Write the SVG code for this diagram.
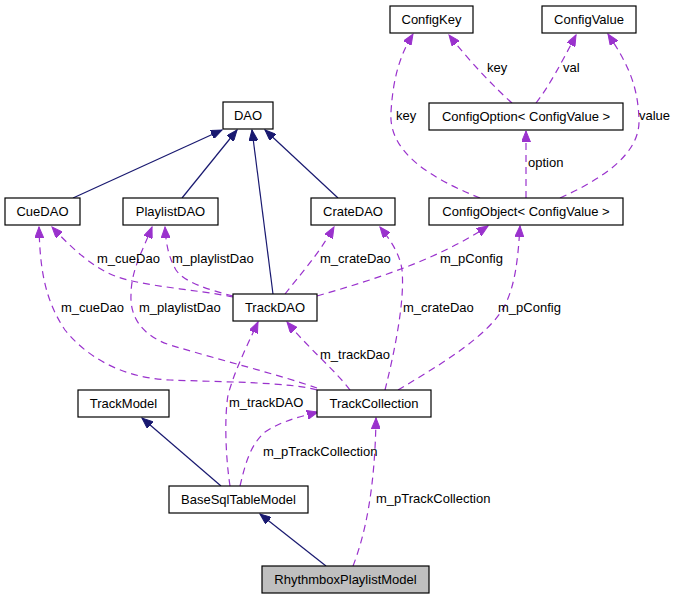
<svg xmlns="http://www.w3.org/2000/svg" width="676" height="600" viewBox="0 0 676 600">
<style>
.n rect{fill:#fff;stroke:#000;stroke-width:1.2}
.n text{font-family:"Liberation Sans",Arial,sans-serif;font-size:13px;text-anchor:middle;fill:#000}
.inh{fill:none;stroke:#191970;stroke-width:1.2;marker-end:url(#ah)}
.use{fill:none;stroke:#9a32cd;stroke-width:1.2;stroke-dasharray:7,5;marker-end:url(#au)}
.lbl{font-family:"Liberation Sans",Arial,sans-serif;font-size:13px;fill:#000}
</style>
<defs>
<marker id="ah" markerUnits="userSpaceOnUse" markerWidth="12" markerHeight="9" refX="11" refY="4.5" orient="auto"><path d="M0,0 L11,4.5 L0,9 z" fill="#191970" stroke="#191970"/></marker>
<marker id="au" markerUnits="userSpaceOnUse" markerWidth="12" markerHeight="9" refX="11" refY="4.5" orient="auto"><path d="M0,0 L11,4.5 L0,9 z" fill="#9a32cd" stroke="#9a32cd"/></marker>
</defs>
<rect width="676" height="600" fill="#fff"/>
<g id="edges">
<path class="inh" d="M73,198 L222,130"/>
<path class="inh" d="M182,198 L237,130"/>
<path class="inh" d="M273,294 L252,130"/>
<path class="inh" d="M338,198 L265,130"/>
<path class="inh" d="M221,486 L142,418"/>
<path class="inh" d="M326,566 L260,514"/>
<path class="use" d="M480,198 C430,178 388,152 391,112 C393,78 400,55 413,34"/>
<path class="use" d="M512,103 C495,88 470,62 449,35"/>
<path class="use" d="M536,103 C548,88 562,62 576,35"/>
<path class="use" d="M560,198 C600,180 640,155 639,120 C638,82 625,60 608,34"/>
<path class="use" d="M526,198 L526,131"/>
<path class="use" d="M233,297 C200,290 140,286 115,276 C95,268 75,252 52,227"/>
<path class="use" d="M233,296 C210,290 185,283 176,270 C169,258 166,245 165,227"/>
<path class="use" d="M285,294 C300,275 318,255 334,227"/>
<path class="use" d="M317,296 C380,278 440,258 488,226"/>
<path class="use" d="M317,390 C290,382 220,382 170,380 C120,378 85,355 65,330 C45,300 40,270 39,227"/>
<path class="use" d="M317,388 C280,375 220,360 170,345 C140,335 130,315 131,295 C131,270 143,250 152,227"/>
<path class="use" d="M350,390 C335,370 310,350 287,322"/>
<path class="use" d="M385,390 C395,350 405,300 402,270 C400,255 392,242 380,227"/>
<path class="use" d="M398,390 C440,365 490,335 505,305 C515,285 518,260 520,226"/>
<path class="use" d="M230,486 C226,460 224,420 228,395 C235,370 245,350 258,322"/>
<path class="use" d="M240,486 C245,465 250,445 265,432 C280,422 295,418 318,412"/>
<path class="use" d="M353,566 C365,535 375,490 376,418"/>
</g>
<g id="edge-labels">
<text class="lbl" x="487" y="72">key</text>
<text class="lbl" x="563" y="72">val</text>
<text class="lbl" x="396" y="120">key</text>
<text class="lbl" x="639" y="120">value</text>
<text class="lbl" x="528" y="167">option</text>
<text class="lbl" x="97" y="263">m_cueDao</text>
<text class="lbl" x="172" y="263">m_playlistDao</text>
<text class="lbl" x="320" y="263">m_crateDao</text>
<text class="lbl" x="440" y="263">m_pConfig</text>
<text class="lbl" x="61" y="312">m_cueDao</text>
<text class="lbl" x="139" y="312">m_playlistDao</text>
<text class="lbl" x="403" y="312">m_crateDao</text>
<text class="lbl" x="498" y="312">m_pConfig</text>
<text class="lbl" x="320" y="359">m_trackDao</text>
<text class="lbl" x="229" y="407">m_trackDAO</text>
<text class="lbl" x="263" y="456">m_pTrackCollection</text>
<text class="lbl" x="376" y="503">m_pTrackCollection</text>
</g>
<g id="ConfigKey" class="n"><rect x="390" y="6" width="83" height="27"/><text x="431.5" y="24">ConfigKey</text></g>
<g id="ConfigValue" class="n"><rect x="542" y="6" width="94" height="27"/><text x="589" y="24">ConfigValue</text></g>
<g id="ConfigOption" class="n"><rect x="429" y="103" width="194" height="27"/><text x="526" y="121">ConfigOption&lt; ConfigValue &gt;</text></g>
<g id="ConfigObject" class="n"><rect x="429" y="198" width="194" height="27"/><text x="526" y="216">ConfigObject&lt; ConfigValue &gt;</text></g>
<g id="DAO" class="n"><rect x="223" y="102" width="50" height="27"/><text x="248" y="120">DAO</text></g>
<g id="CueDAO" class="n"><rect x="5" y="198" width="75" height="27"/><text x="42.5" y="216">CueDAO</text></g>
<g id="PlaylistDAO" class="n"><rect x="123" y="198" width="95" height="27"/><text x="170.5" y="216">PlaylistDAO</text></g>
<g id="CrateDAO" class="n"><rect x="311" y="198" width="84" height="27"/><text x="353" y="216">CrateDAO</text></g>
<g id="TrackDAO" class="n"><rect x="233" y="294" width="84" height="27"/><text x="275" y="312">TrackDAO</text></g>
<g id="TrackModel" class="n"><rect x="78" y="390" width="91" height="27"/><text x="123.5" y="408">TrackModel</text></g>
<g id="TrackCollection" class="n"><rect x="317" y="390" width="114" height="27"/><text x="374" y="408">TrackCollection</text></g>
<g id="BaseSqlTableModel" class="n"><rect x="169" y="486" width="139" height="27"/><text x="238.5" y="504">BaseSqlTableModel</text></g>
<g id="RhythmboxPlaylistModel" class="n"><rect x="262" y="566" width="167" height="27" style="fill:#bfbfbf"/><text x="345.5" y="584">RhythmboxPlaylistModel</text></g>
</svg>
